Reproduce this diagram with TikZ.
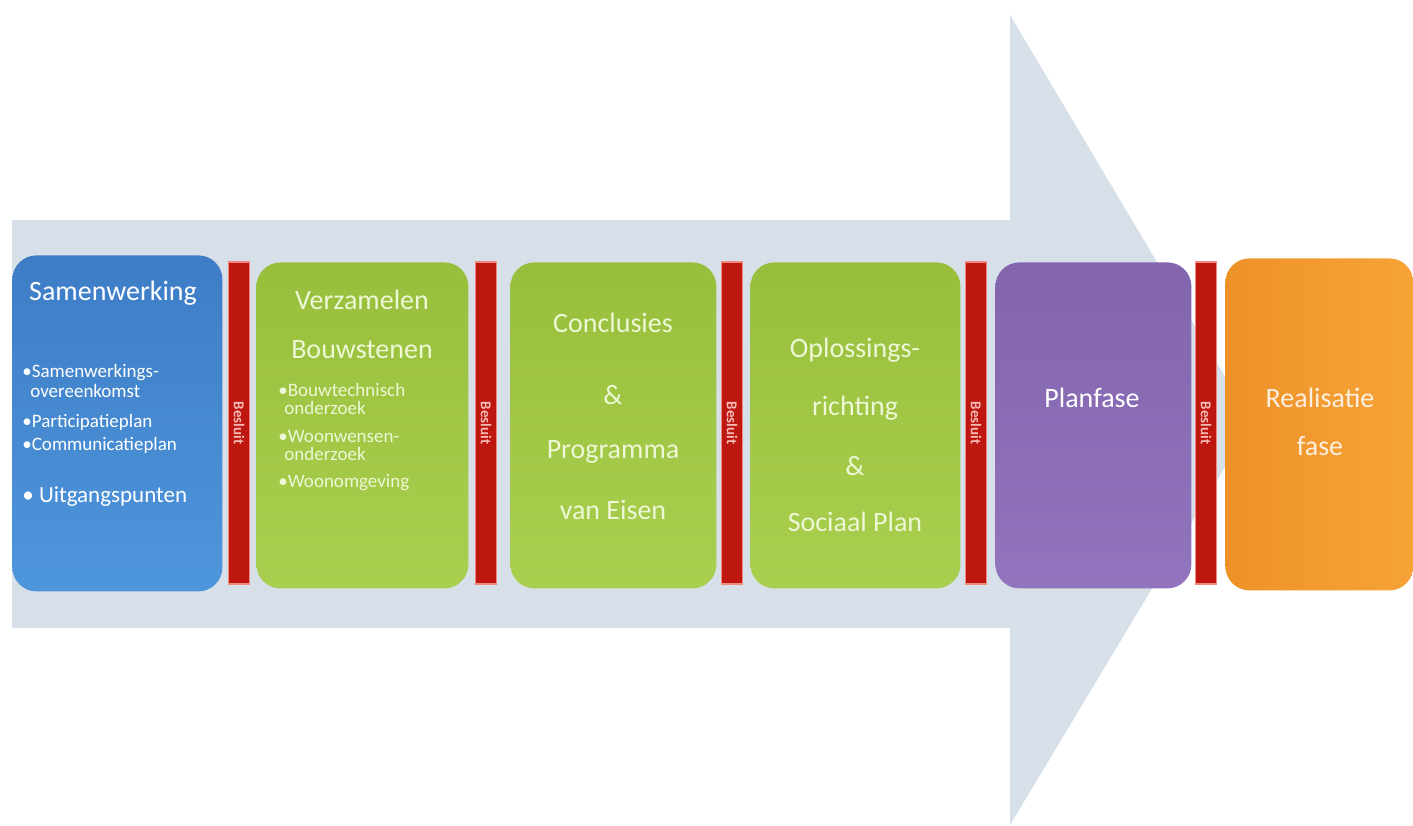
\documentclass[tikz,border=0pt]{standalone}
\usepackage{fontspec}
\setmainfont{Carlito}

\definecolor{arrowbg}{HTML}{D7DFE9}
\definecolor{blueA}{HTML}{3E7DC6}
\definecolor{blueB}{HTML}{4E96DC}
\definecolor{greenA}{HTML}{98BF3C}
\definecolor{greenB}{HTML}{A9CF4E}
\definecolor{purpleA}{HTML}{8365AE}
\definecolor{purpleB}{HTML}{9274BE}
\definecolor{orangeA}{HTML}{EE9228}
\definecolor{orangeB}{HTML}{F6A338}
\definecolor{gatered}{HTML}{BE1710}
\definecolor{gateedge}{HTML}{F08A80}
\definecolor{greentext}{HTML}{EEF7D6}

\begin{document}
\begin{tikzpicture}[x=0.5pt, y=-0.5pt,
  phase/.style={rounded corners=12pt, inner sep=0pt, anchor=north west},
  gate/.style={fill=gatered, draw=gateedge, line width=0.8pt, inner sep=0pt,
    minimum width=10.5pt, minimum height=161pt},
  gatetext/.style={rotate=-90, font=\fontsize{7.5}{8}\selectfont\bfseries, text=gateedge!60!white},
  title/.style={font=\fontsize{14}{16}\selectfont, text=white, align=center},
  bullet/.style={font=\fontsize{9.5}{11}\selectfont, text=white, anchor=west, align=left, inner sep=0pt}]

  \useasboundingbox (0,0) rectangle (1413,825);

  % Big arrow
  \fill[arrowbg] (12,220) -- (1010,220) -- (1010,15) -- (1252,422)
    -- (1010,825) -- (1010,628) -- (12,628) -- cycle;

  % Phases
  \node[phase, top color=blueA, bottom color=blueB, minimum width=105pt, minimum height=168pt]
    (samen) at (12,255) {};
  \node[phase, top color=greenA, bottom color=greenB, minimum width=106pt, minimum height=163pt]
    (bouw) at (256,262) {};
  \node[phase, top color=greenA, bottom color=greenB, minimum width=103pt, minimum height=163pt]
    (concl) at (510,262) {};
  \node[phase, top color=greenA, bottom color=greenB, minimum width=105pt, minimum height=163pt]
    (oplos) at (750,262) {};
  \node[phase, top color=purpleA, bottom color=purpleB, minimum width=98pt, minimum height=163pt]
    (plan) at (995,262) {};
  \node[phase, left color=orangeA, right color=orangeB, minimum width=94pt, minimum height=166pt]
    (real) at (1225,258) {};

  % Gates
  \node[gate] (g1) at (239,423) {};
  \node[gate] (g2) at (486,423) {};
  \node[gate] (g3) at (732,423) {};
  \node[gate] (g4) at (976,423) {};
  \node[gate] (g5) at (1206,423) {};
  \foreach \g in {g1,g2,g3,g4,g5}
    \node[gatetext] at (\g) {Besluit};

  % Samenwerking
  \node[title] at (113,293) {Samenwerking};
  \node[bullet] at (22,373) {•Samenwerkings-};
  \node[bullet] at (30,391) {overeenkomst};
  \node[bullet] at (22,422) {•Participatieplan};
  \node[bullet] at (22,445) {•Communicatieplan};
  \node[bullet, font=\fontsize{11.5}{13}\selectfont] at (22,497) {• Uitgangspunten};

  % Verzamelen Bouwstenen
  \node[title, text=greentext] at (362,300) {Verzamelen};
  \node[title, text=greentext] at (362,350) {Bouwstenen};
  \node[bullet, text=greentext] at (278,390) {•Bouwtechnisch};
  \node[bullet, text=greentext] at (284,408) {onderzoek};
  \node[bullet, text=greentext] at (278,436) {•Woonwensen-};
  \node[bullet, text=greentext] at (284,454) {onderzoek};
  \node[bullet, text=greentext] at (278,483) {•Woonomgeving};

  % Conclusies
  \node[title, text=greentext] at (613,323) {Conclusies};
  \node[title, text=greentext] at (613,395) {\&};
  \node[title, text=greentext] at (613,452) {Programma};
  \node[title, text=greentext] at (613,510) {van Eisen};

  % Oplossingsrichting
  \node[title, text=greentext] at (855,350) {Oplossings-};
  \node[title, text=greentext] at (855,408) {richting};
  \node[title, text=greentext] at (855,466) {\&};
  \node[title, text=greentext] at (855,522) {Sociaal Plan};

  % Planfase, Realisatiefase
  \node[title] at (1092,398) {Planfase};
  \node[title, text=orangeA!15!white] at (1320,398) {Realisatie};
  \node[title, text=orangeA!15!white] at (1320,446) {fase};

\end{tikzpicture}
\end{document}
